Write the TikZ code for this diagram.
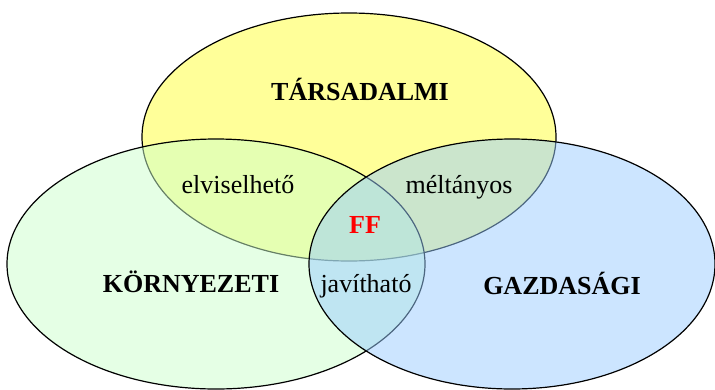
\documentclass[tikz,border=0pt]{standalone}
\usepackage{fontspec}
\setmainfont{Liberation Serif}
\usetikzlibrary{shapes.geometric}

\tikzset{
    set/.style={draw,ellipse,line width=1.2pt,inner sep=0pt},
    big/.style={font=\fontsize{26}{31}\selectfont\bfseries,anchor=base},
    small/.style={font=\fontsize{26}{31}\selectfont,anchor=base}
}

\begin{document}
\begin{tikzpicture}[x=1pt,y=-1pt]
    \useasboundingbox (0,0) rectangle (715,389);
    \node[set,fill={rgb,255:red,255;green,255;blue,153},minimum width=414pt,minimum height=248pt] at (349,137) (tars) {};
    \node[set,fill={rgb,255:red,204;green,255;blue,204},fill opacity=0.5,minimum width=418pt,minimum height=250pt] at (216,264) (korny) {};
    \node[set,fill={rgb,255:red,153;green,204;blue,255},fill opacity=0.5,minimum width=406pt,minimum height=250pt] at (512,264) (gazd) {};
    \node[big] at (360,100) (tl) {TÁRSADALMI};
    \node[big] at (191,292) (kl) {KÖRNYEZETI};
    \node[big] at (562,294) (gl) {GAZDASÁGI};
    \node[small] at (238,193) (elv) {elviselhető};
    \node[small] at (459,193) (mel) {méltányos};
    \node[small] at (366,292) (jav) {javítható};
    \node[big,text=red] at (365,233) (ff) {FF};
\end{tikzpicture}
\end{document}
